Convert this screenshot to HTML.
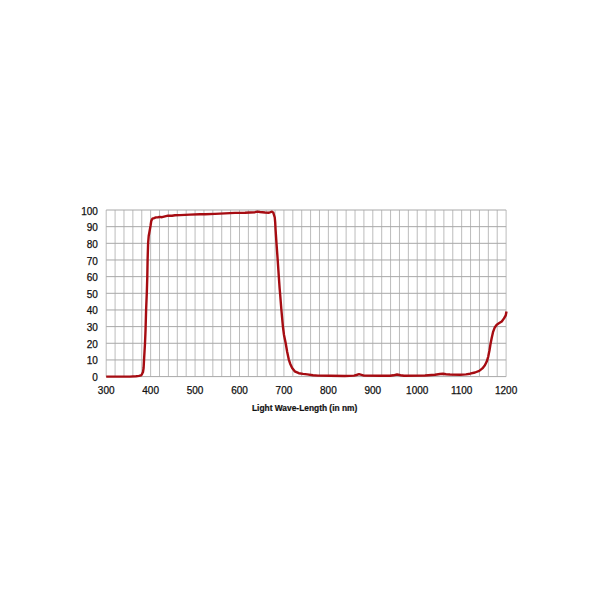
<!DOCTYPE html>
<html><head><meta charset="utf-8"><style>
html,body{margin:0;padding:0;background:#fff;}
body{width:600px;height:600px;position:relative;overflow:hidden;font-family:"Liberation Sans",sans-serif;color:#111;}
.yl,.xl{-webkit-text-stroke:0.25px #111;}
svg{position:absolute;left:0;top:0;}
.yl{position:absolute;right:502.2px;font-size:10px;line-height:10px;}
.xl{position:absolute;top:386px;width:40px;text-align:center;font-size:10px;line-height:10px;}
.tt{position:absolute;left:252px;top:402.9px;transform:scaleX(0.985);transform-origin:0 0;font-size:8.5px;-webkit-text-stroke:0.2px #111;font-weight:bold;line-height:10px;white-space:nowrap;}
</style></head><body>
<svg width="600" height="600" viewBox="0 0 600 600">
<g stroke="#bcbcbc" stroke-width="1" fill="none">
<line x1="106.20" y1="210.0" x2="106.20" y2="376.6"/>
<line x1="115.09" y1="210.0" x2="115.09" y2="376.6"/>
<line x1="123.97" y1="210.0" x2="123.97" y2="376.6"/>
<line x1="132.86" y1="210.0" x2="132.86" y2="376.6"/>
<line x1="141.75" y1="210.0" x2="141.75" y2="376.6"/>
<line x1="150.63" y1="210.0" x2="150.63" y2="376.6"/>
<line x1="159.52" y1="210.0" x2="159.52" y2="376.6"/>
<line x1="168.41" y1="210.0" x2="168.41" y2="376.6"/>
<line x1="177.29" y1="210.0" x2="177.29" y2="376.6"/>
<line x1="186.18" y1="210.0" x2="186.18" y2="376.6"/>
<line x1="195.07" y1="210.0" x2="195.07" y2="376.6"/>
<line x1="203.95" y1="210.0" x2="203.95" y2="376.6"/>
<line x1="212.84" y1="210.0" x2="212.84" y2="376.6"/>
<line x1="221.73" y1="210.0" x2="221.73" y2="376.6"/>
<line x1="230.61" y1="210.0" x2="230.61" y2="376.6"/>
<line x1="239.50" y1="210.0" x2="239.50" y2="376.6"/>
<line x1="248.39" y1="210.0" x2="248.39" y2="376.6"/>
<line x1="257.27" y1="210.0" x2="257.27" y2="376.6"/>
<line x1="266.16" y1="210.0" x2="266.16" y2="376.6"/>
<line x1="275.05" y1="210.0" x2="275.05" y2="376.6"/>
<line x1="283.93" y1="210.0" x2="283.93" y2="376.6"/>
<line x1="292.82" y1="210.0" x2="292.82" y2="376.6"/>
<line x1="301.71" y1="210.0" x2="301.71" y2="376.6"/>
<line x1="310.59" y1="210.0" x2="310.59" y2="376.6"/>
<line x1="319.48" y1="210.0" x2="319.48" y2="376.6"/>
<line x1="328.37" y1="210.0" x2="328.37" y2="376.6"/>
<line x1="337.25" y1="210.0" x2="337.25" y2="376.6"/>
<line x1="346.14" y1="210.0" x2="346.14" y2="376.6"/>
<line x1="355.03" y1="210.0" x2="355.03" y2="376.6"/>
<line x1="363.91" y1="210.0" x2="363.91" y2="376.6"/>
<line x1="372.80" y1="210.0" x2="372.80" y2="376.6"/>
<line x1="381.69" y1="210.0" x2="381.69" y2="376.6"/>
<line x1="390.57" y1="210.0" x2="390.57" y2="376.6"/>
<line x1="399.46" y1="210.0" x2="399.46" y2="376.6"/>
<line x1="408.35" y1="210.0" x2="408.35" y2="376.6"/>
<line x1="417.23" y1="210.0" x2="417.23" y2="376.6"/>
<line x1="426.12" y1="210.0" x2="426.12" y2="376.6"/>
<line x1="435.01" y1="210.0" x2="435.01" y2="376.6"/>
<line x1="443.89" y1="210.0" x2="443.89" y2="376.6"/>
<line x1="452.78" y1="210.0" x2="452.78" y2="376.6"/>
<line x1="461.67" y1="210.0" x2="461.67" y2="376.6"/>
<line x1="470.55" y1="210.0" x2="470.55" y2="376.6"/>
<line x1="479.44" y1="210.0" x2="479.44" y2="376.6"/>
<line x1="488.33" y1="210.0" x2="488.33" y2="376.6"/>
<line x1="497.21" y1="210.0" x2="497.21" y2="376.6"/>
<line x1="506.10" y1="210.0" x2="506.10" y2="376.6"/>
</g>
<g stroke="#a8a8a8" stroke-width="1" fill="none">
<line x1="106.2" y1="376.60" x2="506.1" y2="376.60"/>
<line x1="106.2" y1="359.94" x2="506.1" y2="359.94"/>
<line x1="106.2" y1="343.28" x2="506.1" y2="343.28"/>
<line x1="106.2" y1="326.62" x2="506.1" y2="326.62"/>
<line x1="106.2" y1="309.96" x2="506.1" y2="309.96"/>
<line x1="106.2" y1="293.30" x2="506.1" y2="293.30"/>
<line x1="106.2" y1="276.64" x2="506.1" y2="276.64"/>
<line x1="106.2" y1="259.98" x2="506.1" y2="259.98"/>
<line x1="106.2" y1="243.32" x2="506.1" y2="243.32"/>
<line x1="106.2" y1="226.66" x2="506.1" y2="226.66"/>
<line x1="106.2" y1="210.00" x2="506.1" y2="210.00"/>
</g>
<polyline points="106.2,376.6 130,376.6 136,376.3 139,375.9 141,375.3 141.8,374.5 143,372 143.6,368 144.05,359.6 145.0,343.3 145.55,330 146.1,310 146.8,293 147.3,276.5 147.6,260 148.1,243.5 148.7,236 149.3,232.7 150.5,226 151.2,221.3 152.0,219.3 152.8,218.4 154,218.2 156,217.4 158,217.3 160,216.9 162,217.2 165,216.4 168,215.6 172,215.8 175,215.3 180,215.1 190,214.6 200,214.2 205,214.2 215,213.9 225,213.4 235,212.9 245,212.7 255,212.2 257.5,211.6 260,212 265,212.5 269,212.75 272,211.6 273.3,212.6 274,215 274.75,217.5 275.2,222.5 275.6,230 276.5,243.5 277.7,260 278.8,276.5 279.6,288 280.2,295 281.4,310 282.9,326.5 284.0,335 285.7,343.3 287.15,351.7 288.8,359.6 290.3,364 292.15,368 294.7,371.3 298.8,373.2 303,373.9 307.2,374.4 313,375.2 318,375.6 330,375.8 345,376.0 354,375.6 356.5,375.0 359,374.2 361.5,374.9 364,375.6 380,375.8 390,375.8 393.5,375.3 397,374.5 400.5,375.2 404,375.8 425,375.5 435,374.8 440,374.0 443,373.8 446,374.2 450,374.5 460,374.7 466,374.4 470,373.7 475,372.5 479.25,370.9 482.4,368.4 484.9,365.3 486.75,361.55 488.25,356.55 489.5,350.3 490.5,344.05 491.75,337.8 493.0,332.2 494.6,327.8 496.75,324.7 499.25,323.05 501.75,321.55 504.0,318.4 505.75,315.3 506.5,311.5" fill="none" stroke="#a60c12" stroke-width="2.4" stroke-linejoin="round" stroke-linecap="butt"/>
</svg>
<div class="yl" style="top:372.80px">0</div>
<div class="yl" style="top:356.19px">10</div>
<div class="yl" style="top:339.58px">20</div>
<div class="yl" style="top:322.97px">30</div>
<div class="yl" style="top:306.36px">40</div>
<div class="yl" style="top:289.75px">50</div>
<div class="yl" style="top:273.14px">60</div>
<div class="yl" style="top:256.53px">70</div>
<div class="yl" style="top:239.92px">80</div>
<div class="yl" style="top:223.31px">90</div>
<div class="yl" style="top:206.70px">100</div>
<div class="xl" style="left:86.20px">300</div>
<div class="xl" style="left:130.63px">400</div>
<div class="xl" style="left:175.07px">500</div>
<div class="xl" style="left:219.50px">600</div>
<div class="xl" style="left:263.93px">700</div>
<div class="xl" style="left:308.37px">800</div>
<div class="xl" style="left:352.80px">900</div>
<div class="xl" style="left:397.23px">1000</div>
<div class="xl" style="left:441.67px">1100</div>
<div class="xl" style="left:486.10px">1200</div>
<div class="tt">Light Wave-Length (in nm)</div>
</body></html>
